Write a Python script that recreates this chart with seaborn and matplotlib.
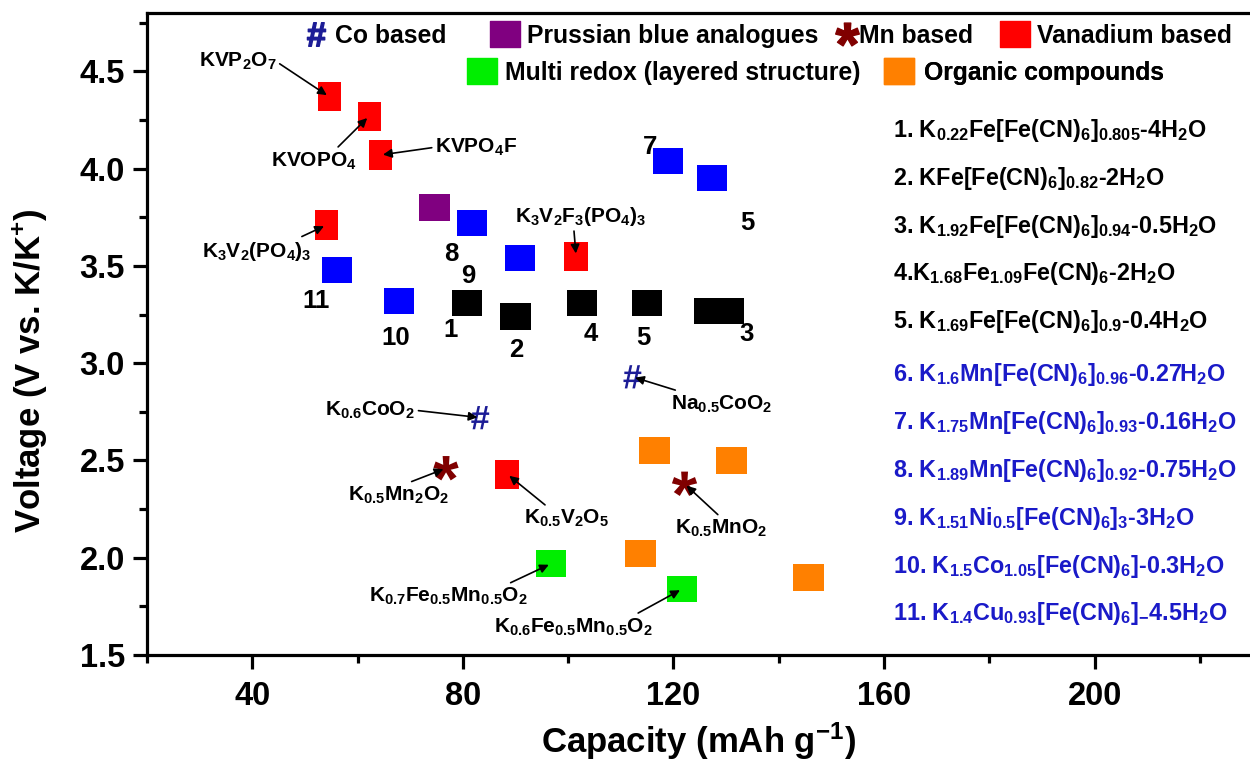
import numpy as np
import pandas as pd
import seaborn as sns
import matplotlib.pyplot as plt
from matplotlib.lines import Line2D
from matplotlib.path import Path
from matplotlib.ticker import FixedLocator, FormatStrFormatter

# ---------------- data (capacity in mAh/g, voltage in V vs K/K+) ----------------
# Fe-based Prussian blue compounds 1-5 (compound 3 spans a capacity range)
fe_pb_cap = [80.8, 90.0, 102.7, 115.0, 126.8, 130.6]
fe_pb_volt = [3.31, 3.24, 3.31, 3.31, 3.27, 3.27]

# Mn/Ni/Co/Cu Prussian blue compounds
tm_pb_cap = [119.0, 127.4, 81.8, 90.9, 56.1, 67.9]
tm_pb_volt = [4.04, 3.95, 3.72, 3.54, 3.48, 3.32]

# Prussian blue analogue (purple)
pba_cap = [74.6]
pba_volt = [3.80]

# Vanadium based
vanadium_names = ["KVP$_2$O$_7$", "KVOPO$_4$", "KVPO$_4$F", "K$_3$V$_2$(PO$_4$)$_3$",
                  "K$_3$V$_2$F$_3$(PO$_4$)$_3$", "K$_{0.5}$V$_2$O$_5$"]
vanadium_cap = [54.6, 62.2, 64.3, 54.1, 101.5, 88.4]
vanadium_volt = [4.37, 4.27, 4.07, 3.71, 3.55, 2.43]

# Co based
co_names = ["K$_{0.6}$CoO$_2$", "Na$_{0.5}$CoO$_2$"]
co_cap = [83.3, 112.2]
co_volt = [2.72, 2.93]

# Mn based
mn_names = ["K$_{0.5}$Mn$_2$O$_2$", "K$_{0.5}$MnO$_2$"]
mn_cap = [76.8, 122.1]
mn_volt = [2.46, 2.38]

# Multi redox (layered structure)
layered_names = ["K$_{0.7}$Fe$_{0.5}$Mn$_{0.5}$O$_2$", "K$_{0.6}$Fe$_{0.5}$Mn$_{0.5}$O$_2$"]
layered_cap = [96.8, 121.7]
layered_volt = [1.97, 1.84]

# Organic compounds
organic_cap = [116.4, 131.0, 113.7, 145.6]
organic_volt = [2.55, 2.50, 2.02, 1.90]

# numbered compound list
compound_list = [
    "1. K$_{0.22}$Fe[Fe(CN)$_6$]$_{0.805}$-4H$_2$O",
    "2. KFe[Fe(CN)$_6$]$_{0.82}$-2H$_2$O",
    "3. K$_{1.92}$Fe[Fe(CN)$_6$]$_{0.94}$-0.5H$_2$O",
    "4.K$_{1.68}$Fe$_{1.09}$Fe(CN)$_6$-2H$_2$O",
    "5. K$_{1.69}$Fe[Fe(CN)$_6$]$_{0.9}$-0.4H$_2$O",
    "6. K$_{1.6}$Mn[Fe(CN)$_6$]$_{0.96}$-0.27H$_2$O",
    "7. K$_{1.75}$Mn[Fe(CN)$_6$]$_{0.93}$-0.16H$_2$O",
    "8. K$_{1.89}$Mn[Fe(CN)$_6$]$_{0.92}$-0.75H$_2$O",
    "9. K$_{1.51}$Ni$_{0.5}$[Fe(CN)$_6$]$_3$-3H$_2$O",
    "10. K$_{1.5}$Co$_{1.05}$[Fe(CN)$_6$]-0.3H$_2$O",
    "11. K$_{1.4}$Cu$_{0.93}$[Fe(CN)$_6$]$_{-}$4.5H$_2$O",
]

x_ticks = [40, 80, 120, 160, 200]
y_ticks = [1.5, 2.0, 2.5, 3.0, 3.5, 4.0, 4.5]

# ---------------- style ----------------
sns.set_theme(style="ticks")
plt.rcParams.update({
    "font.family": ["Liberation Sans", "DejaVu Sans"],
    "font.weight": "bold",
    "axes.labelweight": "bold",
    "mathtext.default": "regular",
    "axes.linewidth": 2.3,
    "axes.edgecolor": "black",
    "text.color": "black",
    "axes.labelcolor": "black",
    "xtick.color": "black",
    "ytick.color": "black",
})

C_BLACK = "#000000"
C_BLUE = "#0000ff"
C_PURPLE = "#800080"
C_RED = "#ff0000"
C_GREEN = "#00ee00"
C_ORANGE = "#ff8000"
C_CO = "#1c1c96"
C_MN = "#800000"
C_LIST_BLUE = "#1a1ac8"

# rectangular markers
wide_box = Path([(-0.575, -0.5), (0.575, -0.5), (0.575, 0.5), (-0.575, 0.5), (-0.575, -0.5)],
                [Path.MOVETO, Path.LINETO, Path.LINETO, Path.LINETO, Path.CLOSEPOLY])
tall_box = Path([(-0.4, -0.5), (0.4, -0.5), (0.4, 0.5), (-0.4, 0.5), (-0.4, -0.5)],
                [Path.MOVETO, Path.LINETO, Path.LINETO, Path.LINETO, Path.CLOSEPOLY])

fig = plt.figure(figsize=(12.5, 7.67), dpi=100)
ax = fig.add_axes([147 / 1250, 1 - 655 / 767, 1104 / 1250, 642 / 767])


def draw(cap, volt, color, marker, size):
    df = pd.DataFrame({"capacity": cap, "voltage": volt})
    sns.scatterplot(data=df, x="capacity", y="voltage", ax=ax, color=color,
                    marker=marker, s=size, linewidth=0, edgecolor="none",
                    legend=False, zorder=3)


draw(fe_pb_cap, fe_pb_volt, C_BLACK, wide_box, 470)
draw(tm_pb_cap, tm_pb_volt, C_BLUE, wide_box, 470)
draw(pba_cap, pba_volt, C_PURPLE, wide_box, 470)
draw(vanadium_cap, vanadium_volt, C_RED, tall_box, 440)
draw(layered_cap, layered_volt, C_GREEN, wide_box, 470)
draw(organic_cap, organic_volt, C_ORANGE, wide_box, 500)
draw(co_cap, co_volt, C_CO, r"$\#$", 280)
draw(mn_cap, mn_volt, C_MN, r"$*$", 330)

# number labels next to Prussian blue markers
number_labels = [
    ("1", 77.6, 3.17), ("2", 90.1, 3.07), ("4", 104.2, 3.15), ("5", 114.3, 3.13),
    ("3", 133.8, 3.15), ("7", 115.6, 4.11), ("5", 134.0, 3.72), ("8", 77.8, 3.56),
    ("9", 81.0, 3.45), ("11", 52.2, 3.32), ("10", 67.2, 3.13),
]
for txt, cx, cy in number_labels:
    ax.text(cx, cy, txt, fontsize=18.5, fontweight="bold", ha="center", va="center")

# named compounds with arrows: (text centre, arrow start on text box)
label_pos = {
    "KVP$_2$O$_7$": ((37.2, 4.55), (1.0, 0.5)),
    "KVOPO$_4$": ((51.6, 4.04), (0.75, 1.0)),
    "KVPO$_4$F": ((82.5, 4.11), (0.0, 0.5)),
    "K$_3$V$_2$(PO$_4$)$_3$": ((40.8, 3.575), (0.85, 1.0)),
    "K$_3$V$_2$F$_3$(PO$_4$)$_3$": ((102.3, 3.755), (0.45, 0.0)),
    "K$_{0.5}$V$_2$O$_5$": ((99.6, 2.20), (0.3, 1.0)),
    "K$_{0.6}$CoO$_2$": ((62.4, 2.758), (1.0, 0.5)),
    "Na$_{0.5}$CoO$_2$": ((129.1, 2.79), (0.15, 1.0)),
    "K$_{0.5}$Mn$_2$O$_2$": ((67.7, 2.32), (0.55, 1.0)),
    "K$_{0.5}$MnO$_2$": ((129.1, 2.15), (0.5, 1.0)),
    "K$_{0.7}$Fe$_{0.5}$Mn$_{0.5}$O$_2$": ((77.2, 1.80), (0.85, 1.0)),
    "K$_{0.6}$Fe$_{0.5}$Mn$_{0.5}$O$_2$": ((101.0, 1.644), (0.87, 1.0)),
}
named = (list(zip(vanadium_names, vanadium_cap, vanadium_volt))
         + list(zip(co_names, co_cap, co_volt))
         + list(zip(mn_names, mn_cap, mn_volt))
         + list(zip(layered_names, layered_cap, layered_volt)))
for name, cx, cy in named:
    (tx, ty), rel = label_pos[name]
    ax.annotate(name, xy=(cx, cy), xytext=(tx, ty), fontsize=15, fontweight="bold",
                ha="center", va="center", zorder=4,
                arrowprops=dict(arrowstyle="-|>", color="black", lw=1.2,
                                mutation_scale=13, shrinkA=0, shrinkB=2, relpos=rel))

# numbered compound list on the right
for i, entry in enumerate(compound_list):
    y = 0.817 - 0.0745 * i - (0.008 if i >= 5 else 0.0)
    ax.text(0.676, y, entry, transform=ax.transAxes, fontsize=16.8, fontweight="bold",
            color=C_BLACK if i < 5 else C_LIST_BLUE, ha="left", va="center")

# category key: one entry per legend so each sits at its own spot
key_entries = [
    # handle, label, left edge (axes fraction), row centre, text pad
    (Line2D([], [], ls="none", marker=r"$\#$", color=C_CO, markersize=17), "Co based", 0.1418, 0.964, 0.27),
    (Line2D([], [], ls="none", marker=wide_box, color=C_PURPLE, markersize=22), "Prussian blue analogues", 0.3130, 0.964, 0.39),
    (Line2D([], [], ls="none", marker=r"$*$", color=C_MN, markersize=17), "Mn based", 0.6228, 0.964, 0.0),
    (Line2D([], [], ls="none", marker=wide_box, color=C_RED, markersize=22), "Vanadium based", 0.7751, 0.964, 0.39),
    (Line2D([], [], ls="none", marker=wide_box, color=C_GREEN, markersize=22), "Multi redox (layered structure)", 0.2923, 0.9065, 0.43),
    (Line2D([], [], ls="none", marker=wide_box, color=C_ORANGE, markersize=22), "Organic compounds", 0.6697, 0.9065, 0.51),
]
for handle, label, x0, y0, pad in key_entries:
    leg = ax.legend([handle], [label], frameon=False, prop={"weight": "bold", "size": 17.8},
                    handlelength=1.0, handletextpad=pad, borderpad=0, borderaxespad=0,
                    loc="center left", bbox_to_anchor=(x0, y0))
    ax.add_artist(leg)

# axes
ax.set_xlim(20, 229.7)
ax.set_ylim(1.5, 4.8)
ax.xaxis.set_major_locator(FixedLocator(x_ticks))
ax.xaxis.set_minor_locator(FixedLocator([20, 60, 100, 140, 180, 220]))
ax.yaxis.set_major_locator(FixedLocator(y_ticks))
ax.yaxis.set_minor_locator(FixedLocator([1.75, 2.25, 2.75, 3.25, 3.75, 4.25, 4.75]))
ax.yaxis.set_major_formatter(FormatStrFormatter("%.1f"))
ax.tick_params(which="major", direction="out", length=10, width=2.3, labelsize=23.5, pad=6,
               top=False, right=False)
ax.tick_params(which="minor", direction="out", length=6, width=2.3, top=False, right=False)
ax.tick_params(axis="x", which="major", pad=9)
for lbl in ax.get_xticklabels() + ax.get_yticklabels():
    lbl.set_fontweight("bold")
ax.spines["right"].set_visible(False)
ax.set_xlabel("Capacity (mAh g$^{-1}$)", fontsize=25, fontweight="bold", labelpad=6)
ax.set_ylabel("Voltage (V vs. K/K$^{+}$)", fontsize=25, fontweight="bold")
ax.yaxis.set_label_coords(-0.089, 0.443)

fig.savefig("out.png", dpi=100)
